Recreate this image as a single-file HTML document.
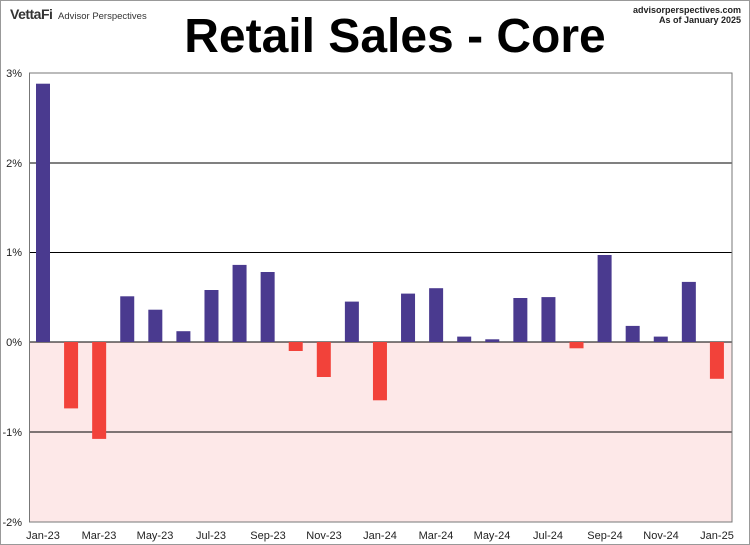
<!DOCTYPE html>
<html><head><meta charset="utf-8"><style>
html,body{margin:0;padding:0;background:#fff}
svg{display:block}
text{font-family:"Liberation Sans",Arial,sans-serif}
</style></head><body>
<svg width="750" height="545" viewBox="0 0 750 545" xmlns="http://www.w3.org/2000/svg">
<rect x="0.5" y="0.5" width="749" height="544" fill="#fff" stroke="#999"/>
<text x="10" y="19" font-size="14" font-weight="bold" fill="#333" letter-spacing="-0.5">VettaFi</text>
<text x="58" y="19" font-size="9.5" fill="#333">Advisor Perspectives</text>
<text x="741" y="13" font-size="9" font-weight="bold" text-anchor="end" fill="#222">advisorperspectives.com</text>
<text x="741" y="23" font-size="9" font-weight="bold" text-anchor="end" fill="#222">As of January 2025</text>
<text x="395" y="52" font-size="48" font-weight="bold" text-anchor="middle" fill="#000">Retail Sales - Core</text>
<rect x="30" y="342" width="702" height="180" fill="#fde8e8"/>
<g stroke="#000" stroke-width="1">
<line x1="30" y1="163" x2="732" y2="163"/>
<line x1="30" y1="252.5" x2="732" y2="252.5"/>
<line x1="30" y1="342" x2="732" y2="342"/>
<line x1="30" y1="432" x2="732" y2="432"/>
</g>
<rect x="29.5" y="73" width="702.5" height="449" fill="none" stroke="#777" stroke-width="1"/>
<g font-size="11" fill="#222" text-anchor="end">
<text x="22" y="77">3%</text><text x="22" y="167">2%</text><text x="22" y="256">1%</text>
<text x="22" y="346">0%</text><text x="22" y="436">-1%</text><text x="22" y="526">-2%</text>
</g>
<g font-size="11" fill="#222" text-anchor="middle">
<text x="43" y="539">Jan-23</text><text x="99" y="539">Mar-23</text><text x="155" y="539">May-23</text>
<text x="211" y="539">Jul-23</text><text x="268" y="539">Sep-23</text><text x="324" y="539">Nov-23</text>
<text x="380" y="539">Jan-24</text><text x="436" y="539">Mar-24</text><text x="492" y="539">May-24</text>
<text x="548" y="539">Jul-24</text><text x="605" y="539">Sep-24</text><text x="661" y="539">Nov-24</text>
<text x="717" y="539">Jan-25</text>
</g>
<g fill="#4a3a8f">
<rect x="36" y="83.7" width="14" height="258.3"/>
<rect x="120.24" y="296.3" width="14" height="45.7"/>
<rect x="148.32" y="309.7" width="14" height="32.3"/>
<rect x="176.4" y="331.2" width="14" height="10.8"/>
<rect x="204.48" y="290" width="14" height="52"/>
<rect x="232.56" y="264.9" width="14" height="77.1"/>
<rect x="260.64" y="272" width="14" height="70"/>
<rect x="344.88" y="301.6" width="14" height="40.4"/>
<rect x="401.04" y="293.6" width="14" height="48.4"/>
<rect x="429.12" y="288.2" width="14" height="53.8"/>
<rect x="457.2" y="336.6" width="14" height="5.4"/>
<rect x="485.28" y="339.3" width="14" height="2.7"/>
<rect x="513.36" y="298" width="14" height="44"/>
<rect x="541.44" y="297.1" width="14" height="44.9"/>
<rect x="597.6" y="255" width="14" height="87"/>
<rect x="625.68" y="325.9" width="14" height="16.1"/>
<rect x="653.76" y="336.6" width="14" height="5.4"/>
<rect x="681.84" y="281.9" width="14" height="60.1"/>
</g>
<g fill="#f2423a">
<rect x="64.08" y="342" width="14" height="66.4"/>
<rect x="92.16" y="342" width="14" height="96.9"/>
<rect x="288.72" y="342" width="14" height="9"/>
<rect x="316.8" y="342" width="14" height="35"/>
<rect x="372.96" y="342" width="14" height="58.3"/>
<rect x="569.52" y="342" width="14" height="6.3"/>
<rect x="709.92" y="342" width="14" height="36.8"/>
</g>
</svg>
</body></html>
